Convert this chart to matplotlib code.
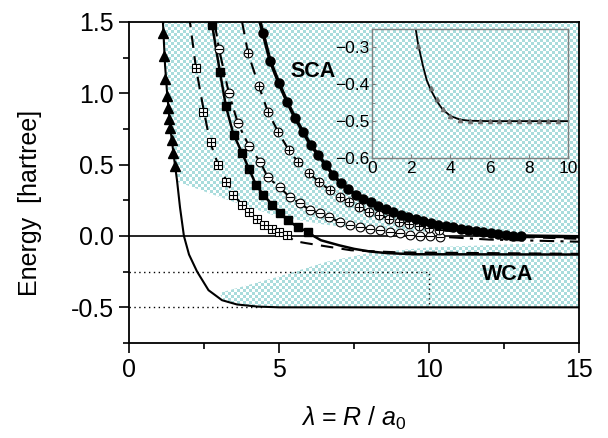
import numpy as np
import matplotlib
matplotlib.use("Agg")
import matplotlib.pyplot as plt
from matplotlib.colors import ListedColormap
from matplotlib.patches import Polygon
from matplotlib.ticker import MultipleLocator

plt.rcParams['font.family'] = ['Liberation Sans', 'DejaVu Sans']
plt.rcParams['mathtext.fontset'] = 'custom'
plt.rcParams['mathtext.it'] = 'Liberation Sans:italic'
plt.rcParams['mathtext.rm'] = 'Liberation Sans'

# --- curve data (lambda, energy) ---
# thin solid curve with triangles (ends at -0.5)
tri_line_x = [1.10, 1.13, 1.20, 1.27, 1.38, 1.53, 1.60, 1.70, 1.83, 2.00, 2.27, 2.65, 3.10, 3.60, 4.30, 5.00, 15.0]
tri_line_y = [1.62, 1.50, 1.20, 1.00, 0.75, 0.50, 0.39, 0.20, 0.00, -0.13, -0.25, -0.38, -0.45, -0.48, -0.495, -0.50, -0.50]
tri_x = [1.13, 1.17, 1.21, 1.25, 1.29, 1.33, 1.37, 1.42, 1.47, 1.52]
tri_y = [1.42, 1.26, 1.10, 0.98, 0.90, 0.82, 0.76, 0.67, 0.58, 0.49]

# dashed curve with boxed-plus markers
bp_line_x = [2.00, 2.23, 2.50, 2.70, 2.97, 3.27, 3.47, 3.77, 4.00, 4.27, 4.47, 4.77, 5.00, 5.27, 5.50, 5.90, 6.70, 7.40, 9.00, 15.0]
bp_line_y = [1.55, 1.18, 0.87, 0.66, 0.50, 0.38, 0.29, 0.22, 0.17, 0.12, 0.08, 0.05, 0.03, 0.01, -0.035, -0.05, -0.077, -0.10, -0.115, -0.125]
bp_x = [2.23, 2.47, 2.73, 2.97, 3.23, 3.47, 3.75, 4.00, 4.25, 4.50, 4.75, 5.00, 5.27]
bp_y = [1.18, 0.87, 0.66, 0.50, 0.38, 0.29, 0.22, 0.17, 0.12, 0.08, 0.05, 0.03, 0.01]

# solid curve with filled squares (ends at -0.13, "WCA")
sq_line_x = [2.72, 2.77, 3.03, 3.23, 3.47, 3.77, 4.00, 4.23, 4.47, 4.77, 5.03, 5.30, 5.63, 5.97, 6.15, 6.40, 7.00, 7.50, 8.00, 8.60, 9.50, 15.0]
sq_line_y = [1.55, 1.48, 1.15, 0.91, 0.72, 0.58, 0.47, 0.36, 0.29, 0.22, 0.16, 0.11, 0.06, 0.03, 0.00, -0.03, -0.065, -0.09, -0.108, -0.12, -0.128, -0.13]
sq_x = [2.77, 3.03, 3.23, 3.50, 3.77, 4.00, 4.23, 4.47, 4.77, 5.03, 5.30, 5.63, 5.97]
sq_y = [1.48, 1.15, 0.91, 0.71, 0.58, 0.47, 0.36, 0.29, 0.22, 0.16, 0.11, 0.06, 0.03]

# dash-dot curve with circle-minus markers
cm_line_x = [2.85, 3.00, 3.33, 3.63, 4.00, 4.37, 4.63, 5.03, 5.37, 5.70, 6.03, 6.37, 6.67, 7.03, 7.37, 7.70, 8.03, 8.37, 8.70, 9.03, 9.37, 9.70, 10.03, 10.37, 12.0, 15.0]
cm_line_y = [1.50, 1.31, 1.00, 0.79, 0.63, 0.52, 0.41, 0.34, 0.27, 0.23, 0.18, 0.16, 0.13, 0.10, 0.08, 0.065, 0.05, 0.04, 0.025, 0.018, 0.01, 0.0, -0.003, -0.005, -0.025, -0.04]
cm_x = cm_line_x[1:24]
cm_y = cm_line_y[1:24]

# dashed curve with circle-plus markers
cp_line_x = [3.77, 3.97, 4.33, 4.63, 4.97, 5.33, 5.63, 6.00, 6.33, 6.70, 7.03, 7.33, 7.67, 8.00, 8.33, 8.67, 9.00, 9.33, 9.67, 10.00, 10.33, 12.0, 15.0]
cp_line_y = [1.50, 1.28, 1.05, 0.87, 0.73, 0.60, 0.52, 0.44, 0.38, 0.32, 0.27, 0.24, 0.20, 0.17, 0.15, 0.12, 0.10, 0.085, 0.07, 0.055, 0.045, 0.0, -0.02]
cp_x = cp_line_x[1:21]
cp_y = cp_line_y[1:21]

# thick solid curve with filled circles
fc_line_x = [4.37, 4.47, 4.70, 5.00, 5.27, 5.53, 5.80, 6.05, 6.30, 6.55, 6.80, 7.05, 7.30, 7.55, 7.80, 8.05, 8.30, 8.55, 8.80, 9.05, 9.30, 9.55, 9.80, 10.05, 10.30, 10.55, 10.80, 11.05, 11.30, 11.55, 11.80, 12.05, 12.30, 12.55, 12.80, 13.05, 15.0]
fc_line_y = [1.50, 1.42, 1.23, 1.07, 0.94, 0.83, 0.73, 0.64, 0.57, 0.50, 0.43, 0.37, 0.33, 0.29, 0.26, 0.235, 0.21, 0.19, 0.17, 0.15, 0.135, 0.12, 0.105, 0.09, 0.08, 0.07, 0.06, 0.05, 0.042, 0.035, 0.028, 0.02, 0.014, 0.008, 0.003, 0.0, -0.005]
fc_x = fc_line_x[1:36]
fc_y = fc_line_y[1:36]

# shaded regions (checker pattern)
sca_x = [1.10, 1.13, 1.20, 1.27, 1.38, 1.53, 1.62, 3.20, 4.90, 6.50, 8.00, 10.0, 12.0, 15.0, 15.0]
sca_y = [1.60, 1.50, 1.20, 1.00, 0.75, 0.50, 0.38, 0.26, 0.14, 0.08, 0.045, 0.03, 0.022, 0.02, 1.60]
wca_x = [3.00, 4.90, 6.60, 8.00, 10.0, 15.0, 15.0, 4.50, 3.60, 3.20]
wca_y = [-0.40, -0.29, -0.18, -0.12, -0.08, -0.04, -0.50, -0.50, -0.48, -0.46]

# inset data
ins_line_x = [2.20, 2.35, 2.60, 2.80, 3.00, 3.30, 3.60, 4.00, 4.50, 5.00, 6.00, 10.0]
ins_line_y = [-0.24, -0.29, -0.35, -0.39, -0.415, -0.445, -0.468, -0.486, -0.496, -0.499, -0.50, -0.50]
ins_pt_x = [2.35, 3.00, 3.33, 3.63, 4.00, 4.50, 5.00, 5.50, 6.00, 6.50, 7.00, 7.50, 8.00, 8.50, 9.00, 9.50]
ins_pt_y = [-0.297, -0.41, -0.44, -0.467, -0.486, -0.496, -0.499, -0.50, -0.50, -0.50, -0.50, -0.50, -0.50, -0.50, -0.50, -0.50]

fig = plt.figure(figsize=(6.08, 4.38), dpi=100)
ax = fig.add_axes([0.2122, 0.2169, 0.7401, 0.7329])
ax.set_xlim(0, 15)
ax.set_ylim(-0.75, 1.5)

# checker background clipped to the two regions
checker = np.indices((107, 150)).sum(axis=0) % 2
cmap = ListedColormap(['white', '#a9dcdc'])
for px, py in [(sca_x, sca_y), (wca_x, wca_y)]:
    poly = Polygon(np.column_stack([px, py]), closed=True, facecolor='none', edgecolor='none')
    ax.add_patch(poly)
    im = ax.imshow(checker, cmap=cmap, extent=[0, 15, -0.75, 1.5], aspect='auto',
                   interpolation='nearest', origin='lower', zorder=0)
    im.set_clip_path(poly)

# reference lines
ax.axhline(0, color='black', lw=1.2, zorder=1)
ax.plot([0, 10, 10], [-0.25, -0.25, -0.5], color='black', lw=1, ls=(0, (1, 2.5)), zorder=1)
ax.plot([0, 4.5], [-0.5, -0.5], color='black', lw=1, ls=(0, (1, 2.5)), zorder=1)

# curves
ax.plot(tri_line_x, tri_line_y, color='black', lw=1.5, zorder=3)
ax.plot(tri_x, tri_y, ls='none', marker='^', ms=7, color='black', zorder=4)

ax.plot(bp_line_x, bp_line_y, color='black', lw=1.5, ls=(0, (6, 4)), zorder=3)
ax.plot(bp_x, bp_y, ls='none', marker='s', ms=5.5, mfc='white', mec='black', mew=0.8, zorder=4)
ax.plot(bp_x, bp_y, ls='none', marker='+', ms=5.5, mec='black', mew=0.8, zorder=5)

ax.plot(sq_line_x, sq_line_y, color='black', lw=1.8, zorder=3)
ax.plot(sq_x, sq_y, ls='none', marker='s', ms=6, color='black', zorder=4)

ax.plot(cm_line_x, cm_line_y, color='black', lw=1.5, ls=(0, (7, 3, 1.5, 3)), zorder=3)
ax.plot(cm_x, cm_y, ls='none', marker='o', ms=6.3, mfc='white', mec='black', mew=0.8, zorder=4)
ax.plot(cm_x, cm_y, ls='none', marker='_', ms=6.3, mec='black', mew=0.8, zorder=5)

ax.plot(cp_line_x, cp_line_y, color='black', lw=1.5, ls=(0, (6, 4)), zorder=3)
ax.plot(cp_x, cp_y, ls='none', marker='o', ms=6.3, mfc='white', mec='black', mew=0.8, zorder=4)
ax.plot(cp_x, cp_y, ls='none', marker='+', ms=6.3, mec='black', mew=0.8, zorder=5)

ax.plot(fc_line_x, fc_line_y, color='black', lw=2.5, zorder=3)
ax.plot(fc_x, fc_y, ls='none', marker='o', ms=6.5, color='black', zorder=4)

ax.text(6.12, 1.15, 'SCA', fontsize=15.5, fontweight='bold', ha='center', va='center', zorder=6)
ax.text(12.63, -0.27, 'WCA', fontsize=15.5, fontweight='bold', ha='center', va='center', zorder=6)

# axes styling
ax.xaxis.set_major_locator(MultipleLocator(5))
ax.xaxis.set_minor_locator(MultipleLocator(2.5))
ax.yaxis.set_major_locator(MultipleLocator(0.5))
ax.yaxis.set_minor_locator(MultipleLocator(0.25))
ax.set_yticks([-0.5, 0.0, 0.5, 1.0, 1.5])
ax.set_yticklabels(['-0.5', '0.0', '0.5', '1.0', '1.5'])
ax.tick_params(which='major', direction='out', length=7, width=1.2, labelsize=18, pad=4)
ax.tick_params(which='minor', direction='out', length=4, width=1.2)
for s in ax.spines.values():
    s.set_linewidth(1.3)
ax.set_xlabel(r'$\lambda$ = $R$ / $a_0$', fontsize=18, labelpad=16)
ax.set_ylabel('Energy  [hartree]', fontsize=18)
ax.yaxis.set_label_coords(-0.193, 0.436)

# inset
axi = fig.add_axes([0.6118, 0.6393, 0.3224, 0.2945])
axi.set_facecolor('none')
axi.set_xlim(0, 10)
axi.set_ylim(-0.6, -0.25)
axi.plot(ins_line_x, ins_line_y, color='black', lw=1.3)
axi.plot(ins_pt_x, ins_pt_y, ls='none', marker='^', ms=3, color='#707070')
axi.xaxis.set_major_locator(MultipleLocator(2))
axi.xaxis.set_minor_locator(MultipleLocator(1))
axi.set_yticks([-0.6, -0.5, -0.4, -0.3])
axi.yaxis.set_minor_locator(MultipleLocator(0.05))
axi.tick_params(which='both', direction='in', color='#808080', labelsize=12.5, pad=2)
axi.tick_params(which='major', length=3)
axi.tick_params(which='minor', length=2)
for s in axi.spines.values():
    s.set_color('#808080')
    s.set_linewidth(1)

fig.savefig('out.png', dpi=100)
